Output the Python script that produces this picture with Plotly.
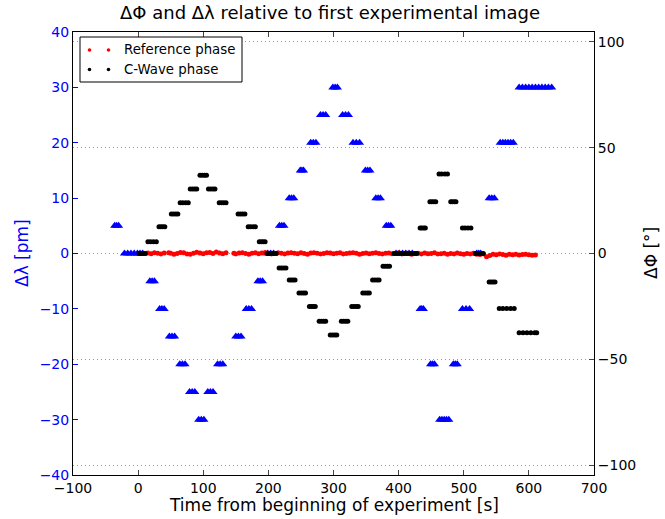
import plotly.graph_objects as go

# ---- Delta lambda (pm), blue triangles ----
lam_t = [-36, -33, -30,
         -21, -16, -11, -6, -1, 3, 7,
         18, 21.5, 25,
         33, 36.5, 40,
         48, 52, 56,
         64, 68, 72,
         79, 83, 87,
         93, 97, 101,
         107, 111, 115,
         122, 126, 130,
         150, 154, 158,
         166, 170, 174,
         184, 187.5, 191,
         199, 203.5, 208,
         217, 220.5, 224,
         232, 235.5, 239,
         249, 251.5, 254,
         265, 269, 273,
         280, 284, 288,
         299, 302.5, 306,
         314, 318.5, 323,
         330, 335, 340,
         349, 352.5, 356,
         365, 368.5, 372,
         381, 384.5, 388,
         396, 401, 406, 411, 416, 421,
         433, 435.5, 438,
         449, 452, 455,
         463, 466.5, 470, 473.5, 477,
         484, 487, 490,
         498, 503.5, 509,
         520, 523, 526,
         539, 543, 547,
         556, 560, 564, 568, 572, 576,
         585, 590, 595, 600, 605, 610, 615, 620, 625, 630, 635]
lam_v = [5, 5, 5,
         0, 0, 0, 0, 0, 0, 0,
         -5, -5, -5,
         -10, -10, -10,
         -15, -15, -15,
         -20, -20, -20,
         -25, -25, -25,
         -30, -30, -30,
         -25, -25, -25,
         -20, -20, -20,
         -15, -15, -15,
         -10, -10, -10,
         -5, -5, -5,
         0, 0, 0,
         5, 5, 5,
         10, 10, 10,
         15, 15, 15,
         20, 20, 20,
         25, 25, 25,
         30, 30, 30,
         25, 25, 25,
         20, 20, 20,
         15, 15, 15,
         10, 10, 10,
         5, 5, 5,
         0, 0, 0, 0, 0, 0,
         -10, -10, -10,
         -20, -20, -20,
         -30, -30, -30, -30, -30,
         -20, -20, -20,
         -10, -10, -10,
         0, 0, 0,
         10, 10, 10,
         20, 20, 20, 20, 20, 20,
         30, 30, 30, 30, 30, 30, 30, 30, 30, 30, 30]

# ---- Reference phase (deg), red dots ----
ref_t = [15, 20, 25, 30, 35, 40,
         47, 50, 55, 60, 65, 70, 75, 80, 85, 90, 95, 100, 105, 110, 115, 120, 125, 130, 135,
         147, 150, 155, 160, 165, 170, 175, 180, 185, 190, 195, 200, 205, 210, 215, 220,
         225, 230, 235, 240, 245, 250, 255, 260, 265, 270, 275, 280, 285, 290, 295, 300,
         305, 310, 315, 320, 325, 330, 335, 340, 345, 350, 355, 360, 365, 370, 375, 380,
         385, 390, 395, 400, 405, 410, 415, 420, 425, 430, 435, 440, 445, 450, 455, 460,
         465, 470, 475, 480, 485, 490, 495, 500, 505, 510, 515, 520, 525, 530, 535, 540,
         545, 550, 555, 560, 565, 570, 575, 580, 585, 590, 595, 600, 605, 610]
ref_v = [0.2, -0.1, 0.3, 0.1, -0.2, 0.2,
         0.4, 0.1, -0.3, 0.0, 0.5, 0.3, -0.2, -0.4, 0.1, 0.6, 0.2, -0.1, 0.3, 0.5, 0.0, 0.7, 0.2, -0.1, 0.3,
         0.1, -0.2, 0.2, 0.4, 0.0, -0.3, 0.1, 0.3, -0.1, 0.2, 0.5, 0.1, -0.2, 0.0, 0.3, 0.1,
         -0.2, 0.2, 0.4, 0.1, -0.1, 0.3, 0.0, -0.3, 0.2, 0.4, 0.1, -0.2, 0.0, 0.3, 0.2, -0.1,
         0.1, 0.3, -0.2, 0.0, 0.2, 0.4, 0.1, -0.3, 0.0, 0.2, -0.1, 0.1, 0.3, 0.0, -0.2, 0.1,
         0.2, -0.1, 0.0, 0.3, -0.2, 0.1, 0.2, -0.3, 0.0, 0.1, -0.2, 0.2, -0.1, 0.0, 0.3, -0.2,
         -0.1, 0.1, -0.3, 0.0, -0.2, 0.2, -0.1, -0.4, 0.0, -0.2, 0.1, -0.3, -0.5, -0.2, -1.5, -0.9,
         -0.4, -0.6, -0.2, -0.5, -0.8, -0.3, -0.6, -0.4, -0.7, -0.5, -0.3, -0.6, -0.8, -0.7]

# ---- C-Wave phase (deg), black dots ----
cw_t = [1.5, 4.5, 8, 11,
        15, 19, 23.5, 28,
        32, 35, 38, 41,
        51, 54.5, 58, 61,
        64.5, 68.5, 73, 77,
        80, 83.5, 87, 90,
        95, 98.5, 102, 105,
        108, 111.5, 115, 118,
        124.5, 128, 131.5, 135,
        153.5, 157, 160.5, 164,
        169, 172.5, 176.5, 180,
        186, 189, 192, 195,
        198, 201.5, 205, 208.5, 212,
        216.5, 220, 223.5, 227,
        232, 235, 238, 241,
        247, 250.5, 254, 257,
        263, 266, 269, 272,
        278, 281.5, 285, 288,
        295, 298.5, 302, 305,
        312, 315.5, 319, 322,
        328, 331.5, 335, 338,
        345, 348.5, 352, 355,
        360, 363.5, 367, 370,
        376, 379.5, 383, 386,
        393, 397, 401, 405, 409, 413, 417, 421, 425, 428,
        433, 435.5, 438.5, 441,
        448, 451, 454, 457,
        462, 466, 471, 475,
        480, 482.5, 485.5, 488,
        498, 502, 506.5, 511,
        518, 522, 526, 530,
        539, 542, 545, 548,
        554.5, 560, 566, 572, 577.5,
        585, 591, 597, 603, 609, 612]
cw_v = [0, 0, 0, 0,
        5.5, 5.5, 5.5, 5.5,
        12.6, 12.6, 12.6, 12.6,
        18.7, 18.7, 18.7, 18.7,
        24, 24, 24, 24,
        30.5, 30.5, 30.5, 30.5,
        37, 37, 37, 37,
        30.5, 30.5, 30.5, 30.5,
        24, 24, 24, 24,
        18.7, 18.7, 18.7, 18.7,
        12.6, 12.6, 12.6, 12.6,
        5.5, 5.5, 5.5, 5.5,
        0, 0, 0, 0, 0,
        -6.9, -6.9, -6.9, -6.9,
        -12.5, -12.5, -12.5, -12.5,
        -18.7, -18.7, -18.7, -18.7,
        -25, -25, -25, -25,
        -32, -32, -32, -32,
        -38.5, -38.5, -38.5, -38.5,
        -32, -32, -32, -32,
        -25, -25, -25, -25,
        -18.7, -18.7, -18.7, -18.7,
        -12.5, -12.5, -12.5, -12.5,
        -6, -6, -6, -6,
        0, 0, 0, 0, 0, 0, 0, 0, 0, 0,
        12, 12, 12, 12,
        24.5, 24.5, 24.5, 24.5,
        37.6, 37.6, 37.6, 37.6,
        24.5, 24.5, 24.5, 24.5,
        12, 12, 12, 12,
        0, 0, 0, 0,
        -13.5, -13.5, -13.5, -13.5,
        -26, -26, -26, -26, -26,
        -37.5, -37.5, -37.5, -37.5, -37.5, -37.5]

x_ticks = [-100, 0, 100, 200, 300, 400, 500, 600, 700]
lam_ticks = [-40, -30, -20, -10, 0, 10, 20, 30, 40]
phi_ticks = [-100, -50, 0, 50, 100]

FONT = "DejaVu Sans"
BLUE = "#0000ff"
W, H = 665, 519
L, R, T, B = 73, 594, 32, 475

fig = go.Figure()
fig.add_trace(go.Scatter(x=lam_t, y=lam_v, mode="markers", name="Δλ",
                         marker=dict(symbol="triangle-up", size=8, color=BLUE,
                                     line=dict(width=0)),
                         showlegend=False, yaxis="y"))
fig.add_trace(go.Scatter(x=ref_t, y=ref_v, mode="markers", name="Reference phase",
                         marker=dict(symbol="circle", size=5, color="#ff0000",
                                     line=dict(width=0)),
                         showlegend=False, yaxis="y2"))
fig.add_trace(go.Scatter(x=cw_t, y=cw_v, mode="markers", name="C-Wave phase",
                         marker=dict(symbol="circle", size=5, color="#000000",
                                     line=dict(width=0)),
                         showlegend=False, yaxis="y2"))


def px(x):
    return (x - L) / (R - L)


def py(y):
    return (B - y) / (B - T)


# legend drawn like matplotlib's (two markers per entry)
shapes = [dict(type="rect", xref="paper", yref="paper",
               x0=px(80), x1=px(242), y0=py(82), y1=py(37),
               line=dict(color="black", width=1), fillcolor="white", layer="above")]
for yy, col in [(50, "#ff0000"), (69.5, "#000000")]:
    for xx in (89.5, 108.5):
        shapes.append(dict(type="circle", xref="paper", yref="paper",
                           x0=px(xx - 1.8), x1=px(xx + 1.8),
                           y0=py(yy + 1.8), y1=py(yy - 1.8),
                           fillcolor=col, line=dict(width=0), layer="above"))
annotations = [
    dict(text="Reference phase", xref="paper", yref="paper", x=px(122), y=py(50),
         xanchor="left", yanchor="middle", showarrow=False,
         font=dict(family=FONT, size=13.3, color="black")),
    dict(text="C-Wave phase", xref="paper", yref="paper", x=px(122), y=py(69.5),
         xanchor="left", yanchor="middle", showarrow=False,
         font=dict(family=FONT, size=13.3, color="black")),
    # axis titles
    dict(text="Time from beginning of experiment [s]", xref="paper", yref="paper",
         x=px(334), y=py(505), xanchor="center", yanchor="middle", showarrow=False,
         font=dict(family=FONT, size=17, color="black")),
    dict(text="Δλ [pm]", xref="paper", yref="paper", x=px(22), y=py(253),
         xanchor="center", yanchor="middle", showarrow=False, textangle=-90,
         font=dict(family=FONT, size=17, color=BLUE)),
    dict(text="ΔΦ [°]", xref="paper", yref="paper", x=px(651), y=py(253),
         xanchor="center", yanchor="middle", showarrow=False, textangle=-90,
         font=dict(family=FONT, size=17, color="black")),
    # title
    dict(text="ΔΦ and Δλ relative to first experimental image", xref="paper",
         yref="paper", x=px(330), y=py(12), xanchor="center", yanchor="middle",
         showarrow=False, font=dict(family=FONT, size=18, color="black")),
]

fig.update_layout(
    width=W, height=H,
    margin=dict(l=L, r=W - R, t=T, b=H - B, autoexpand=False),
    paper_bgcolor="white", plot_bgcolor="white",
    font=dict(family=FONT, size=14, color="black"),
    xaxis=dict(range=[-100, 700], tickvals=x_ticks, ticks="inside", ticklen=5,
               showline=True, linecolor="black", linewidth=1, mirror="ticks",
               showgrid=False, zeroline=False, automargin=False,
               tickfont=dict(family=FONT, size=14, color="black")),
    yaxis=dict(range=[-40, 40], tickvals=lam_ticks, ticks="inside", ticklen=5,
               tickcolor=BLUE, showline=True, linecolor="black", linewidth=1,
               showgrid=False, zeroline=False, automargin=False,
               tickfont=dict(family=FONT, size=14, color=BLUE)),
    yaxis2=dict(range=[-104.7, 104.7], tickvals=phi_ticks, ticks="inside", ticklen=5,
                overlaying="y", side="right", showline=True, linecolor="black",
                linewidth=1, showgrid=True, gridcolor="#9a9a9a", griddash="1px,3px",
                gridwidth=1, zeroline=False, automargin=False,
                tickfont=dict(family=FONT, size=14, color="black")),
    shapes=shapes, annotations=annotations,
)

fig.write_html("out.html", config={"displayModeBar": False},
               post_script="document.body.style.margin='0';"
                           "document.body.style.overflow='hidden';")
